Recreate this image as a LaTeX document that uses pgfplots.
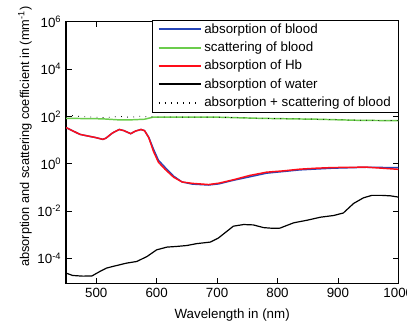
\documentclass[border=0pt]{standalone}
\usepackage{fontspec}
\setmainfont{Liberation Sans}
\usepackage{pgfplots}
\pgfplotsset{compat=1.18}
\definecolor{mblue}{rgb}{0.15,0.27,0.72}
\definecolor{mgreen}{rgb}{0.42,0.80,0.30}
\definecolor{mred}{rgb}{1,0.05,0.1}
\begin{document}
\begin{tikzpicture}
\useasboundingbox (-49.5pt,-28.3pt) rectangle (255.7pt,212.5pt);
\begin{axis}[
  scale only axis, width=249.2pt, height=196.2pt,
  at={(0,0)}, anchor=south west,
  xmin=450, xmax=1000, ymode=log, ymin=8.8e-6, ymax=1e6,
  xtick={500,600,700,800,900,1000},
  ytick={1e-4,1e-2,1,1e2,1e4,1e6},
  yticklabels={10\textsuperscript{-4},10\textsuperscript{-2},10\textsuperscript{0},10\textsuperscript{2},10\textsuperscript{4},10\textsuperscript{6}},
  minor ytick={}, yminorticks=false,
  tick align=inside, tick pos=both,
  /pgf/number format/assume math mode=true,
  /pgf/number format/1000 sep={},
  tick label style={font=\fontsize{10}{12}\selectfont},
  label style={font=\fontsize{10}{12}\selectfont},
  axis line style={line width=0.8pt},
  every tick/.style={line width=0.6pt, black},
  xlabel={Wavelength in (nm)},
  xlabel style={at={(axis description cs:0.5,-0.08)}, anchor=north},
  ylabel={absorption and scattering coefficient in (mm\textsuperscript{-1})},
  ylabel style={at={(axis description cs:-0.1235,0.045)}, anchor=west, rotate=0, font=\fontsize{9.6}{11}\selectfont},
  legend cell align=left,
  legend style={at={(1,1.008)}, anchor=north east,
    font=\fontsize{10}{12}\selectfont, inner xsep=4pt, inner ysep=1.2pt, row sep=2pt,
    nodes={inner sep=1.5pt}},
  legend image code/.code={\draw[#1, line width=1.3pt] (0cm,0cm) -- (1.13cm,0cm);},
]
% absorption of blood
\addplot[mblue, line width=1.1pt] coordinates {
(450,34) (473,17.4) (500,12.6) (511,10.7) (516,12) (527,20) (538,28) (546,25) (557,18.6) (565,24) (574,28) (580,25) (587,13) (595,4.0) (603,1.4) (614,0.70) (628,0.30) (642,0.17) (659,0.138) (686,0.126) (703,0.141) (727,0.20) (754,0.28) (782,0.40) (810,0.47) (837,0.55) (865,0.60) (892,0.65) (947,0.71) (1000,0.68)
};
\addlegendentry{absorption of blood}
% scattering of blood
\addplot[mgreen, line width=1.1pt] coordinates {
(450,83) (480,81) (510,79) (535,72) (560,72) (580,76) (594,93) (650,93) (700,93) (740,87) (771,83) (820,79) (865,76) (900,72) (937,68) (1000,66)
};
\addlegendentry{scattering of blood}
% absorption of Hb
\addplot[mred, line width=1.1pt] coordinates {
(450,34) (473,17.4) (500,12.6) (511,10.7) (516,12) (527,20) (538,28) (546,25) (557,18.6) (565,24) (574,28) (580,25) (587,12.6) (595,3.2) (603,1.15) (614,0.58) (628,0.27) (642,0.17) (659,0.148) (686,0.132) (703,0.151) (727,0.21) (754,0.32) (782,0.44) (810,0.50) (837,0.59) (865,0.65) (892,0.69) (947,0.72) (1000,0.58)
};
\addlegendentry{absorption of Hb}
% absorption of water
\addplot[black, line width=0.9pt] coordinates {
(450,2.4e-5) (461,1.9e-5) (478,1.78e-5) (493,1.82e-5) (506,2.8e-5) (517,3.9e-5) (528,4.6e-5) (550,6.3e-5) (567,7.4e-5) (584,1.2e-4) (600,2.3e-4) (617,3.0e-4) (633,3.2e-4) (650,3.5e-4) (666,4.2e-4) (689,4.9e-4) (702,7.2e-4) (716,1.38e-3) (727,2.3e-3) (744,2.7e-3) (760,2.6e-3) (777,2.0e-3) (793,1.86e-3) (804,1.9e-3) (816,2.5e-3) (827,3.2e-3) (849,4.1e-3) (871,5.5e-3) (893,6.5e-3) (909,8.3e-3) (926,2.1e-2) (942,3.6e-2) (956,4.6e-2) (973,4.6e-2) (987,4.4e-2) (1000,3.9e-2)
};
\addlegendentry{absorption of water}
% absorption + scattering of blood
\addplot[black, line width=0.6pt, dash pattern=on 0.6pt off 4pt] coordinates {
(450,117) (473,99) (500,92) (511,90) (527,94) (538,100) (557,91) (574,103) (587,93) (595,97) (603,94.4) (614,93.7) (650,93.2) (700,93.1) (740,87.2) (771,83.4) (820,79.5) (865,76.6) (900,72.7) (937,68.7) (1000,66.7)
};
\addlegendentry{absorption + scattering of blood}
\end{axis}
\end{tikzpicture}
\end{document}
